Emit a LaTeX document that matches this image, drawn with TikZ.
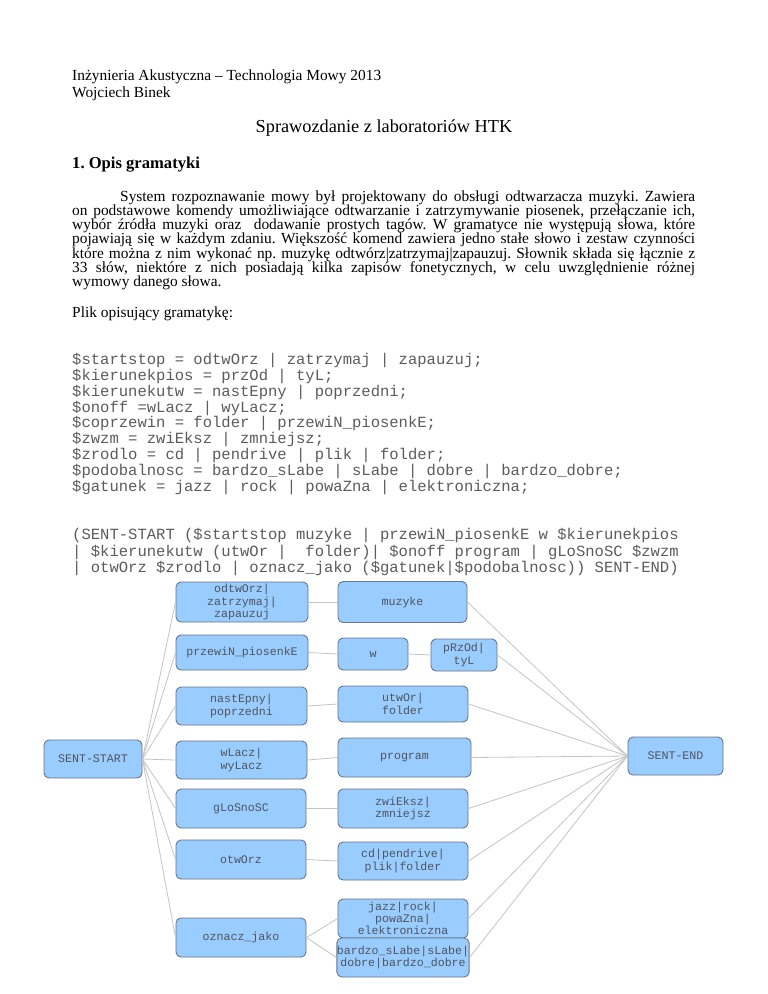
\documentclass[tikz,border=0pt]{standalone}
\usepackage{fontspec}
\setmainfont{Liberation Serif}
\setmonofont{Liberation Mono}
\frenchspacing
\definecolor{boxfill}{RGB}{153,204,255}
\definecolor{boxborder}{RGB}{105,118,135}
\definecolor{boxtext}{RGB}{80,84,92}
\definecolor{linkgray}{RGB}{196,196,196}
\definecolor{codegray}{RGB}{92,92,92}
\tikzset{
  body/.style={anchor=base west, inner sep=0pt, font=\frenchspacing\fontsize{15.4}{14.2}\selectfont},
  code/.style={anchor=base west, inner sep=0pt, text=codegray, font=\ttfamily\fontsize{15.55}{15.9}\selectfont},
  box/.style={draw=boxborder, fill=boxfill, rounded corners=5pt, line width=0.9pt, align=center,
    inner sep=0pt, text=boxtext, font=\ttfamily\fontsize{11.6}{12.3}\selectfont},
  link/.style={draw=linkgray, line width=0.8pt}
}
\begin{document}
\begin{tikzpicture}[x=1pt,y=-1pt]
\useasboundingbox[fill=white] (0,0) rectangle (768,994);
% header
\node[body] (h1) at (72,80.5) {Inżynieria Akustyczna – Technologia Mowy 2013};
\node[body] (h2) at (72,97) {Wojciech Binek};
\node[anchor=base, inner sep=0pt, font=\fontsize{18.3}{20}\selectfont] (title) at (384,132.5) {Sprawozdanie z laboratoriów HTK};
\node[anchor=base west, inner sep=0pt, font=\bfseries\fontsize{16.6}{18}\selectfont] (sec) at (72,168) {1. Opis gramatyki};
% paragraph
\node[body] (p1) at (120,201) {\makebox[575pt][s]{System rozpoznawanie mowy był projektowany do obsługi odtwarzacza muzyki. Zawiera}};
\node[body] (p2) at (72,215.3) {\makebox[623pt][s]{on podstawowe komendy umożliwiające odtwarzanie i zatrzymywanie piosenek, przełączanie ich,}};
\node[body] (p3) at (72,229.5) {\makebox[623pt][s]{wybór źródła muzyki oraz~ dodawanie prostych tagów. W gramatyce nie występują słowa, które}};
\node[body] (p4) at (72,243.7) {\makebox[623pt][s]{pojawiają się w każdym zdaniu. Większość komend zawiera jedno stałe słowo i zestaw czynności}};
\node[body] (p5) at (72,258) {\makebox[623pt][s]{które można z nim wykonać np. muzykę odtwórz|zatrzymaj|zapauzuj. Słownik składa się łącznie z}};
\node[body] (p6) at (72,272.3) {\makebox[623pt][s]{33 słów, niektóre z nich posiadają kilka zapisów fonetycznych, w celu uwzględnienie różnej}};
\node[body] (p7) at (72,286.5) {wymowy danego słowa.};
\node[body] (plik) at (72,317.5) {Plik opisujący gramatykę:};
% grammar
\node[code] (g1) at (72,364.5) {\$startstop = odtwOrz | zatrzymaj | zapauzuj;};
\node[code] (g2) at (72,380.4) {\$kierunekpios = przOd | tyL;};
\node[code] (g3) at (72,396.2) {\$kierunekutw = nastEpny | poprzedni;};
\node[code] (g4) at (72,412.1) {\$onoff =wLacz | wyLacz;};
\node[code] (g5) at (72,427.9) {\$coprzewin = folder | przewiN\_piosenkE;};
\node[code] (g6) at (72,443.8) {\$zwzm = zwiEksz | zmniejsz;};
\node[code] (g7) at (72,459.6) {\$zrodlo = cd | pendrive | plik | folder;};
\node[code] (g8) at (72,475.5) {\$podobalnosc = bardzo\_sLabe | sLabe | dobre | bardzo\_dobre;};
\node[code] (g9) at (72,491.3) {\$gatunek = jazz | rock | powaZna | elektroniczna;};
\node[code] (s1) at (72,539.5) {(SENT-START (\$startstop muzyke | przewiN\_piosenkE w \$kierunekpios};
\node[code] (s2) at (72,556) {| \$kierunekutw (utwOr |\ \ folder)| \$onoff program | gLoSnoSC \$zwzm};
\node[code] (s3) at (72,572.5) {| otwOrz \$zrodlo | oznacz\_jako (\$gatunek|\$podobalnosc)) SENT-END)};
% diagram
\node[box, minimum width=98pt, minimum height=38pt] (start) at (93,759) {SENT-START};
\node[box, minimum width=132pt, minimum height=40pt] (odtw) at (242,602) {odtwOrz|\\zatrzymaj|\\zapauzuj};
\node[box, minimum width=129pt, minimum height=41pt] (muz) at (402.5,602) {muzyke};
\node[box, minimum width=132pt, minimum height=35pt] (prz) at (242,652.5) {przewiN\_piosenkE};
\node[box, minimum width=70pt, minimum height=32pt] (w) at (373,654) {w};
\node[box, minimum width=66pt, minimum height=32pt] (przod) at (464,655) {pRzOd|\\tyL};
\node[box, minimum width=131pt, minimum height=38pt] (nast) at (241.5,706) {nastEpny|\\poprzedni};
\node[box, minimum width=130pt, minimum height=36pt] (utw) at (403,704) {utwOr|\\folder};
\node[box, minimum width=131pt, minimum height=38pt] (wlacz) at (241.5,760) {wLacz|\\wyLacz};
\node[box, minimum width=133pt, minimum height=39pt] (prog) at (404.5,757.5) {program};
\node[box, minimum width=130pt, minimum height=39pt] (glos) at (241,808.5) {gLoSnoSC};
\node[box, minimum width=130pt, minimum height=39pt] (zwi) at (403,808.5) {zwiEksz|\\zmniejsz};
\node[box, minimum width=130pt, minimum height=39pt] (otw) at (241,859.5) {otwOrz};
\node[box, minimum width=130pt, minimum height=38pt] (cd) at (403,861) {cd|pendrive|\\plik|folder};
\node[box, minimum width=130pt, minimum height=39pt] (ozn) at (241,937.5) {oznacz\_jako};
\node[box, minimum width=130pt, minimum height=39pt] (jazz) at (403,918.5) {jazz|rock|\\powaZna|\\elektroniczna};
\node[box, minimum width=130pt, minimum height=39pt] (bard) at (403,957.5) {bardzo\_sLabe|sLabe|\\dobre|bardzo\_dobre};
\node[box, minimum width=95pt, minimum height=38pt] (end) at (675.5,756) {SENT-END};
% connectors
\foreach \n in {odtw,prz,nast,wlacz,glos,otw,ozn} \draw[link] (start.east) -- (\n.west);
\draw[link] (odtw.east) -- (muz.west);
\draw[link] (prz.east) -- (w.west);
\draw[link] (w.east) -- (przod.west);
\draw[link] (nast.east) -- (utw.west);
\draw[link] (wlacz.east) -- (prog.west);
\draw[link] (glos.east) -- (zwi.west);
\draw[link] (otw.east) -- (cd.west);
\draw[link] (ozn.east) -- (jazz.west);
\draw[link] (ozn.east) -- (bard.west);
\foreach \n in {muz,przod,utw,prog,zwi,cd,jazz,bard} \draw[link] (\n.east) -- (end.west);
\end{tikzpicture}
\end{document}
